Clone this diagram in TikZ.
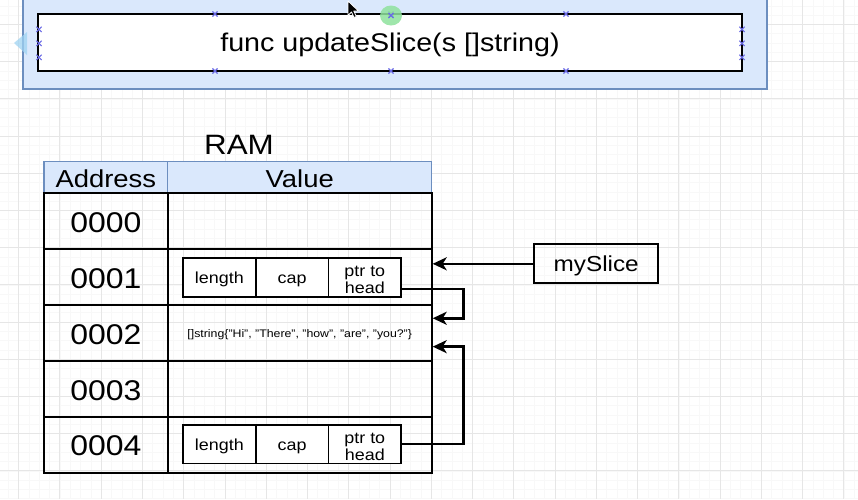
\documentclass[tikz,border=0pt]{standalone}
\usepackage{fontspec}
\setmainfont{Liberation Sans}[FakeStretch=1.12]
\usetikzlibrary{arrows.meta,calc}
\definecolor{gridmaj}{HTML}{E6E6E6}
\definecolor{gridmin}{HTML}{F8F8F8}
\definecolor{bluefill}{HTML}{DAE8FC}
\definecolor{blueline}{HTML}{6C8EBF}
\definecolor{handlecol}{HTML}{6A6AE6}
\definecolor{greendot}{HTML}{8FE29D}
\definecolor{hovertri}{HTML}{9FD3F2}
\tikzset{
  majline/.style={draw=gridmaj, line width=1pt},
  minline/.style={draw=gridmin, line width=0.7pt},
  hdr/.style={rectangle, draw=blueline, fill=bluefill, line width=1.5pt, inner sep=0pt,
    minimum height=31.6, font=\fontsize{24.5}{28}\selectfont, text height=19.6pt, text depth=0pt},
  addrcell/.style={rectangle, draw=black, line width=2pt, inner sep=0pt, minimum width=123.7,
    minimum height=55.88, font=\fontsize{28.5}{32}\selectfont, text height=22.4pt, text depth=0pt},
  valcell/.style={rectangle, draw=black, line width=2pt, inner sep=0pt, minimum width=264,
    minimum height=55.88},
  subcell/.style={rectangle, draw=black, line width=1.5pt, fill=white, inner sep=0pt,
    minimum width=72.7, minimum height=39, font=\fontsize{16}{18}\selectfont,
    text height=12.6pt, text depth=0pt},
  ptrtext/.style={inner sep=0pt, align=center, font=\fontsize{16}{16.5}\selectfont},
  arr/.style={line width=2.5pt, -{Stealth[length=14pt, width=13pt, inset=4pt]}},
  handlemark/.style={draw=handlecol, line width=1.1pt},
}
\begin{document}
\begin{tikzpicture}[x=1pt, y=-1pt]
\useasboundingbox (0,0) rectangle (858,499);
\fill[white] (0,0) rectangle (858,499);
% grid
\foreach \i in {-2,...,84} \draw[minline] ({18.7+10.315*\i},0) -- ++(0,499);
\foreach \j in {-4,...,54} \draw[minline] (0,{24.5+9.3*\j}) -- ++(858,0);
\foreach \i in {0,...,20} \draw[majline] ({18.7+41.26*\i},0) -- ++(0,499);
\foreach \j in {-1,...,13} \draw[majline] (0,{24.5+37.2*\j}) -- ++(858,0);

% top container
\node[rectangle, fill=bluefill, draw=blueline, line width=1.5pt, minimum width=744,
      minimum height=100, inner sep=0pt] (frame) at (395,39) {};
\fill[hovertri, opacity=0.75] (14,43) -- (27,32) -- (27,55) -- cycle;
\node[rectangle, fill=white, draw=black, line width=2pt, minimum width=704, minimum height=57,
      inner sep=0pt, font=\fontsize{25.6}{30}\selectfont, text height=17pt, text depth=0pt]
      (func) at (390,42.5) {func updateSlice(s []string)};
% selection handles
\foreach \hx/\hy in {215/14,391/14,566/14,215/71,391/71,566/71,39/29.3,39/43.3,39/57.3,742/29.3,742/43.3,742/57.3}
  \draw[handlemark] (\hx-2.6,\hy-2.6) -- (\hx+2.6,\hy+2.6) (\hx-2.6,\hy+2.6) -- (\hx+2.6,\hy-2.6);
\fill[greendot, opacity=0.85] (391,15.5) ellipse (11 and 10);
\draw[handlemark] (388.4,12.9) -- (393.6,18.1) (388.4,18.1) -- (393.6,12.9);
% mouse cursor
\filldraw[fill=black, draw=white, line width=0.8pt, line join=round]
  (348,1) -- (348,15.5) -- (351.5,12) -- (354,17.5) -- (356.3,16.5) -- (353.8,11) -- (358.5,11) -- cycle;

% RAM title
\node[font=\fontsize{28}{32}\selectfont, anchor=base, inner sep=0pt] (ram) at (239,154) {RAM};

% header
\node[hdr, minimum width=123.7] (haddr) at (105.85,177.5) {Address};
\node[hdr, minimum width=264] (hval) at (299.7,177.5) {Value};

% rows
\node[addrcell] (addr0) at (105.85,221.24) {0000};
\node[addrcell] (addr1) at (105.85,277.12) {0001};
\node[addrcell] (addr2) at (105.85,333.00) {0002};
\node[addrcell] (addr3) at (105.85,388.88) {0003};
\node[addrcell] (addr4) at (105.85,444.76) {0004};
\node[valcell] (val0) at (299.7,221.24) {};
\node[valcell] (val1) at (299.7,277.12) {};
\node[valcell, font=\fontsize{11}{13}\selectfont, text height=9pt, text depth=0pt] (val2) at (299.7,333.00)
  {[]string\{"Hi", "There", "how", "are", "you?"\}};
\node[valcell] (val3) at (299.7,388.88) {};
\node[valcell] (val4) at (299.7,444.76) {};

% slice headers
\node[subcell] (len1) at (219.4,277.5) {length};
\node[subcell] (cap1) at (292.1,277.5) {cap};
\node[subcell] (ptr1) at (364.8,277.5) {};
\node[ptrtext] (ptr1t) at ($(ptr1.center)+(0,2.5)$) {ptr to\\head};
\node[subcell, minimum height=38.3] (len4) at (219.4,444.2) {length};
\node[subcell, minimum height=38.3] (cap4) at (292.1,444.2) {cap};
\node[subcell, minimum height=38.3] (ptr4) at (364.8,444.2) {};
\node[ptrtext] (ptr4t) at ($(ptr4.center)+(0,2.5)$) {ptr to\\head};

% mySlice
\node[rectangle, draw=black, line width=2pt, minimum width=124.3, minimum height=39, inner sep=0pt,
      font=\fontsize{21.7}{26}\selectfont, text height=15.8pt, text depth=0pt]
      (myslice) at (596.2,263.8) {mySlice};

% connectors
\draw[arr] (myslice.west) -- (myslice.west -| val1.east);
\draw[arr] ($(ptr1.east)+(0,11.5)$) -- ++(61.5,0) |- ($(val2.north east)+(0,14.2)$);
\draw[arr] (ptr4.east) -- ++(61.5,0) |- ($(val2.north east)+(0,42.6)$);
\end{tikzpicture}
\end{document}
